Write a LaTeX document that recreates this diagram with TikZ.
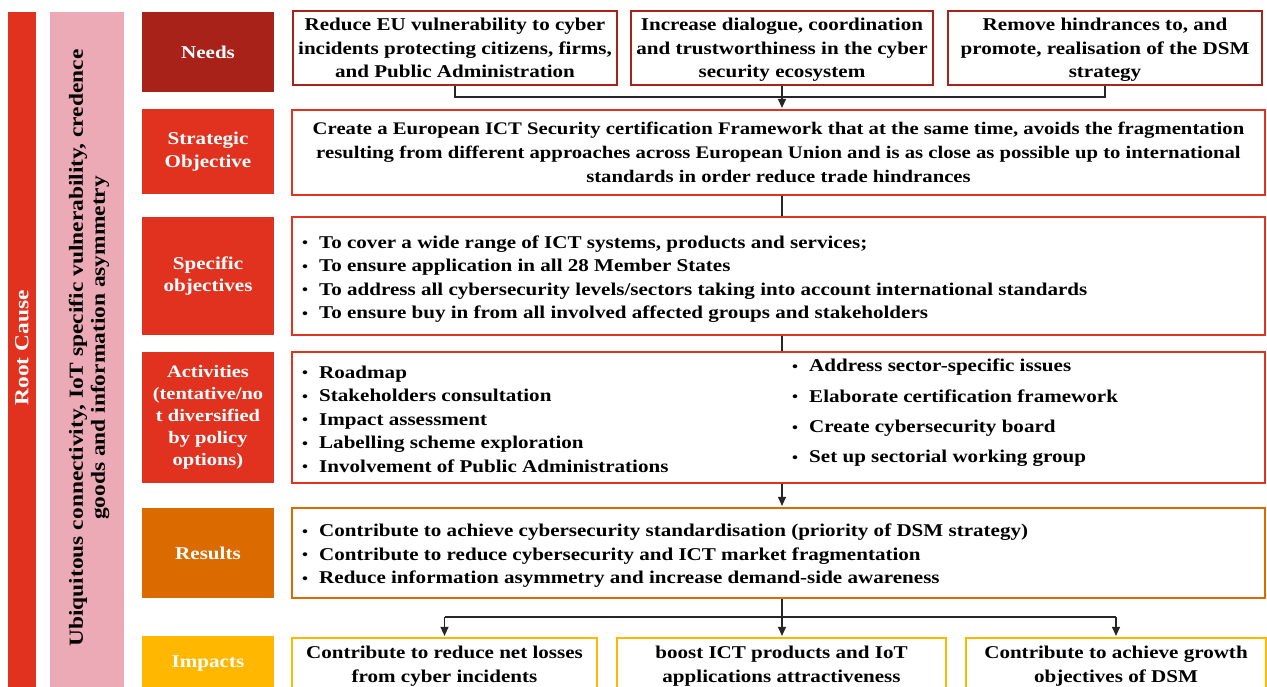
\documentclass[tikz,border=0pt]{standalone}
\usepackage{fontspec}
\setmainfont{Liberation Serif}[FakeStretch=1.17]
\usetikzlibrary{arrows.meta}
\definecolor{cDark}{RGB}{168,34,26}
\definecolor{cRed}{RGB}{225,50,32}
\definecolor{cPink}{RGB}{235,170,182}
\definecolor{cOrange}{RGB}{219,106,0}
\definecolor{cYellow}{RGB}{255,183,0}
\newcommand\bul{\makebox[17pt][l]{\raisebox{0.5pt}{\scalebox{0.8}{\textbullet}}}}
\begin{document}
\begin{tikzpicture}[x=1pt,y=-1pt,
  font=\bfseries\fontsize{18}{23.5}\selectfont,
  lbl/.style={fill=#1, text=white, align=center, inner sep=0pt, minimum width=132pt},
  box/.style={draw=#1, line width=2.2pt, fill=white, inner sep=0pt, align=center},
  txt/.style={inner sep=0pt, align=left, anchor=west},
  conn/.style={line width=1.1pt, draw=black!85},
  arr/.style={conn, -{Triangle[length=9pt,width=8pt]}, shorten >=1pt}]
\useasboundingbox (0,0) rectangle (1267,686);
% left bars
\node[fill=cRed, minimum width=28pt, minimum height=688pt, inner sep=0pt] (rootbar) at (22,356) {};
\node[text=white, rotate=90, font=\bfseries\fontsize{20}{22}\selectfont] (roottxt) at (22,348) {Root Cause};
\node[fill=cPink, minimum width=74pt, minimum height=688pt, inner sep=0pt] (pinkbar) at (87,356) {};
\node[rotate=90, align=center, inner sep=0pt, font=\bfseries\fontsize{20}{22}\selectfont] (pinktxt) at (89,348)
  {Ubiquitous connectivity, IoT specific vulnerability, credence\\goods and information asymmetry};
% row labels
\node[lbl=cDark, minimum height=80pt] (lneeds) at (208,52) {Needs};
\node[lbl=cRed, minimum height=85pt] (lstrat) at (208,151.5) {Strategic\\[-1pt]Objective};
\node[lbl=cRed, minimum height=118pt] (lspec) at (208,276) {Specific\\[-1pt]objectives};
\node[lbl=cRed, minimum height=131pt, font=\bfseries\fontsize{17.5}{22}\selectfont] (lact) at (208,417.5)
  {Activities\\(tentative/no\\t diversified\\by policy\\options)};
\node[lbl=cOrange, minimum height=90pt] (lres) at (208,553) {Results};
\node[lbl=cYellow, minimum height=56pt] (limp) at (208,664) {Impacts};
% needs boxes
\node[box=cDark, minimum width=324pt, minimum height=74pt] (n1) at (455,48)
  {Reduce EU vulnerability to cyber\\incidents protecting citizens, firms,\\and Public Administration};
\node[box=cDark, minimum width=302pt, minimum height=74pt] (n2) at (782,48)
  {Increase dialogue, coordination\\and trustworthiness in the cyber\\\smash{security ecosystem}};
\node[box=cDark, minimum width=314pt, minimum height=74pt] (n3) at (1105,48)
  {Remove hindrances to, and\\promote, realisation of the DSM\\\smash{strategy}};
% strategic objective
\node[box=cRed, minimum width=973pt, minimum height=85pt, font=\bfseries\fontsize{17.7}{23.8}\selectfont] (strat) at (778.5,152.5)
  {Create a European ICT Security certification Framework that at the same time, avoids the fragmentation\\
   resulting from different approaches across European Union and is as close as possible up to international\\
   standards in order reduce trade hindrances};
% specific objectives
\node[box=cRed, minimum width=973pt, minimum height=118pt] (spec) at (778.5,276) {};
\node[txt] (specT) at (302,279)
  {\bul To cover a wide range of ICT systems, products and services;\\
   \bul To ensure application in all 28 Member States\\
   \bul To address all cybersecurity levels/sectors taking into account international standards\\
   \bul To ensure buy in from all involved affected groups and stakeholders};
% activities
\node[box=cRed, minimum width=973pt, minimum height=131pt] (act) at (778.5,417.5) {};
\node[txt] (actL) at (302,419)
  {\bul Roadmap\\
   \bul Stakeholders consultation\\
   \bul Impact assessment\\
   \bul Labelling scheme exploration\\
   \bul Involvement of Public Administrations};
\node[txt, font=\bfseries\fontsize{18}{30.3}\selectfont] (actR) at (792,413)
  {\bul Address sector-specific issues\\
   \bul Elaborate certification framework\\
   \bul Create cybersecurity board\\
   \bul Set up sectorial working group};
% results
\node[box=cOrange, minimum width=973pt, minimum height=90pt] (res) at (778.5,553) {};
\node[txt] (resT) at (302,556)
  {\bul Contribute to achieve cybersecurity standardisation (priority of DSM strategy)\\
   \bul Contribute to reduce cybersecurity and ICT market fragmentation\\
   \bul Reduce information asymmetry and increase demand-side awareness};
% impacts
\node[box=cYellow, minimum width=305pt, minimum height=56pt] (imp1) at (444.5,666)
  {Contribute to reduce net losses\\from cyber incidents};
\node[box=cYellow, minimum width=329pt, minimum height=56pt] (imp2) at (781.5,666)
  {boost ICT products and IoT\\applications attractiveness};
\node[box=cYellow, minimum width=300pt, minimum height=56pt] (imp3) at (1116,666)
  {Contribute to achieve growth\\objectives of DSM};
% connectors
\coordinate (nj) at (782,97);
\draw[conn] (n1.south) |- (n3.south |- nj) -- (n3.south);
\draw[arr] (n2.south) -- (strat.north -| n2.south);
\draw[conn] (strat.south -| n2.south) -- (spec.north -| n2.south);
\draw[conn] (spec.south -| n2.south) -- (act.north -| n2.south);
\draw[arr] (act.south -| n2.south) -- (res.north -| n2.south);
\coordinate (rj) at (782,617);
\draw[conn] (res.south -| rj) -- (rj);
\draw[conn] (imp1.north |- rj) -- (imp3.north |- rj);
\draw[arr] (imp1.north |- rj) -- (imp1.north);
\draw[arr] (rj) -- (imp2.north -| rj);
\draw[arr] (imp3.north |- rj) -- (imp3.north);
\end{tikzpicture}
\end{document}
